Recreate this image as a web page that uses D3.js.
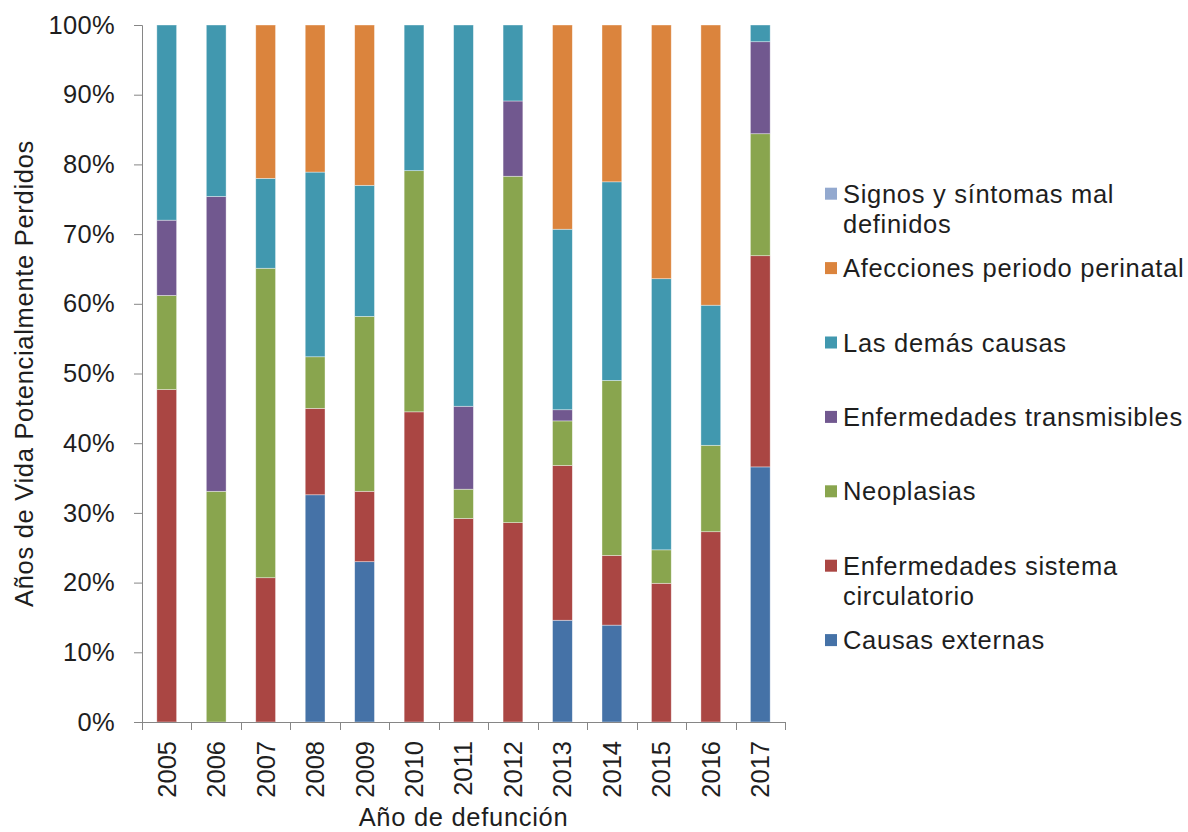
<!DOCTYPE html>
<html lang="es">
<head>
<meta charset="utf-8">
<script src="https://cdn.jsdelivr.net/npm/d3@7"></script>
<style>
  html, body { margin: 0; padding: 0; background: #fff; }
  svg { display: block; font-family: "Liberation Sans", Arial, sans-serif; }
</style>
</head>
<body>
<svg id="chart" width="1188" height="832"></svg>
<script>
// Años de defunción (eje X)
const years = ["2005","2006","2007","2008","2009","2010","2011","2012","2013","2014","2015","2016","2017"];

// Porcentaje de AVPP por grupo de causas, por año
const causasExternas        = [0, 0, 0, 32.6, 23.0, 0, 0, 0, 14.6, 13.9, 0, 0, 36.6];
const sistemaCirculatorio   = [47.7, 0, 20.7, 12.4, 10.1, 44.5, 29.2, 28.6, 22.2, 10.0, 19.9, 27.3, 30.3];
const neoplasias            = [13.5, 33.1, 44.4, 7.4, 25.1, 34.6, 4.2, 49.7, 6.4, 25.1, 4.8, 12.4, 17.5];
const transmisibles         = [10.8, 42.3, 0, 0, 0, 0, 11.9, 10.8, 1.6, 0, 0, 0, 13.2];
const demasCausas           = [28.0, 24.6, 12.9, 26.5, 18.8, 20.9, 54.7, 10.9, 25.9, 28.5, 38.9, 20.1, 2.4];
const perinatal             = [0, 0, 22.0, 21.1, 23.0, 0, 0, 0, 29.3, 22.5, 36.4, 40.2, 0];
const signosMalDefinidos    = [0, 0, 0, 0, 0, 0, 0, 0, 0, 0, 0, 0, 0];

// Etiquetas del eje Y
const yTicks = [0, 0.1, 0.2, 0.3, 0.4, 0.5, 0.6, 0.7, 0.8, 0.9, 1.0];

// Series en orden de apilado (de abajo hacia arriba)
const series = [
  { key: "ext",   label: ["Causas externas"],                          color: "#4572A7", values: causasExternas },
  { key: "circ",  label: ["Enfermedades sistema", "circulatorio"],     color: "#AA4643", values: sistemaCirculatorio },
  { key: "neo",   label: ["Neoplasias"],                               color: "#89A54E", values: neoplasias },
  { key: "trans", label: ["Enfermedades transmisibles"],               color: "#71588F", values: transmisibles },
  { key: "demas", label: ["Las demás causas"],                         color: "#4198AF", values: demasCausas },
  { key: "peri",  label: ["Afecciones periodo perinatal"],             color: "#DB843D", values: perinatal },
  { key: "signos",label: ["Signos y síntomas mal", "definidos"],       color: "#93A9CF", values: signosMalDefinidos }
];

const rows = years.map((y, i) => {
  const r = { year: y };
  series.forEach(s => { r[s.key] = s.values[i]; });
  return r;
});

const svg = d3.select("#chart");
const M = { left: 142, right: 785, top: 25, bottom: 722 };
const FONT = 25.5;
const TEXT = "#1e1e1e";
const AXIS = "#868686";

const x = d3.scaleBand()
  .domain(years)
  .range([M.left, M.right])
  .paddingInner(0.6)
  .paddingOuter(0.3);

const y = d3.scaleLinear().domain([0, 1]).range([M.bottom, M.top]);

const stack = d3.stack()
  .keys(series.map(s => s.key))
  .offset(d3.stackOffsetExpand);
const stacked = stack(rows);

// Barras apiladas al 100 %
const g = svg.append("g");
g.selectAll("g.layer")
  .data(stacked)
  .join("g")
  .attr("class", "layer")
  .attr("fill", (d, i) => series[i].color)
  .selectAll("rect")
  .data(d => d.filter(p => p[1] - p[0] > 0))
  .join("rect")
  .attr("x", d => x(d.data.year))
  .attr("width", x.bandwidth())
  .attr("y", d => y(d[1]))
  .attr("height", d => y(d[0]) - y(d[1]))
  .attr("stroke", "#ffffff")
  .attr("stroke-opacity", 0.55)
  .attr("stroke-width", 0.7);

// Eje Y
const yAxis = svg.append("g")
  .attr("transform", `translate(${M.left},0)`)
  .call(d3.axisLeft(y).tickValues(yTicks).tickFormat(d3.format(".0%")).tickSize(8).tickPadding(19));
yAxis.select(".domain").attr("stroke", AXIS);
yAxis.selectAll(".tick line").attr("stroke", AXIS);
yAxis.selectAll(".tick text")
  .attr("fill", TEXT)
  .attr("font-size", FONT)
  .attr("letter-spacing", 0.3)
  .attr("font-family", "Liberation Sans, Arial, sans-serif");

// Eje X: marcas entre categorías
const step = x.step();
const xAxisG = svg.append("g");
xAxisG.append("line")
  .attr("x1", M.left).attr("x2", M.right)
  .attr("y1", M.bottom + 0.5).attr("y2", M.bottom + 0.5)
  .attr("stroke", AXIS);
xAxisG.selectAll("line.tick")
  .data(d3.range(years.length + 1))
  .join("line")
  .attr("class", "tick")
  .attr("x1", i => Math.round(M.left + i * step) + 0.5)
  .attr("x2", i => Math.round(M.left + i * step) + 0.5)
  .attr("y1", M.bottom)
  .attr("y2", M.bottom + 8)
  .attr("stroke", AXIS);

xAxisG.selectAll("text")
  .data(years)
  .join("text")
  .attr("transform", d => `translate(${x(d) + x.bandwidth() / 2},${M.bottom + 19}) rotate(-90)`)
  .attr("text-anchor", "end")
  .attr("dy", "0.35em")
  .attr("fill", TEXT)
  .attr("font-size", FONT)
  .text(d => d);

// Títulos de ejes
svg.append("text")
  .attr("transform", `translate(33,${(M.top + M.bottom) / 2}) rotate(-90)`)
  .attr("text-anchor", "middle")
  .attr("fill", TEXT)
  .attr("font-size", FONT)
  .attr("letter-spacing", 0.7)
  .text("Años de Vida Potencialmente Perdidos");

svg.append("text")
  .attr("x", (M.left + M.right) / 2)
  .attr("y", 826)
  .attr("text-anchor", "middle")
  .attr("fill", TEXT)
  .attr("font-size", FONT)
  .attr("letter-spacing", 0.7)
  .text("Año de defunción");

// Leyenda (orden inverso al apilado)
const legendItems = series.slice().reverse();
const legend = svg.append("g");
const legTop = 193.7, legStep = 74.4;
const item = legend.selectAll("g")
  .data(legendItems)
  .join("g")
  .attr("transform", (d, i) => `translate(825,${legTop + i * legStep})`);
item.append("rect")
  .attr("x", 0).attr("y", -6)
  .attr("width", 12).attr("height", 12)
  .attr("fill", d => d.color);
item.append("text")
  .attr("x", 18)
  .attr("y", 9)
  .attr("fill", TEXT)
  .attr("font-size", FONT)
  .attr("letter-spacing", 0.7)
  .selectAll("tspan")
  .data(d => d.label)
  .join("tspan")
  .attr("x", 18)
  .attr("dy", (d, i) => i === 0 ? 0 : 30)
  .text(d => d);
</script>
</body>
</html>
